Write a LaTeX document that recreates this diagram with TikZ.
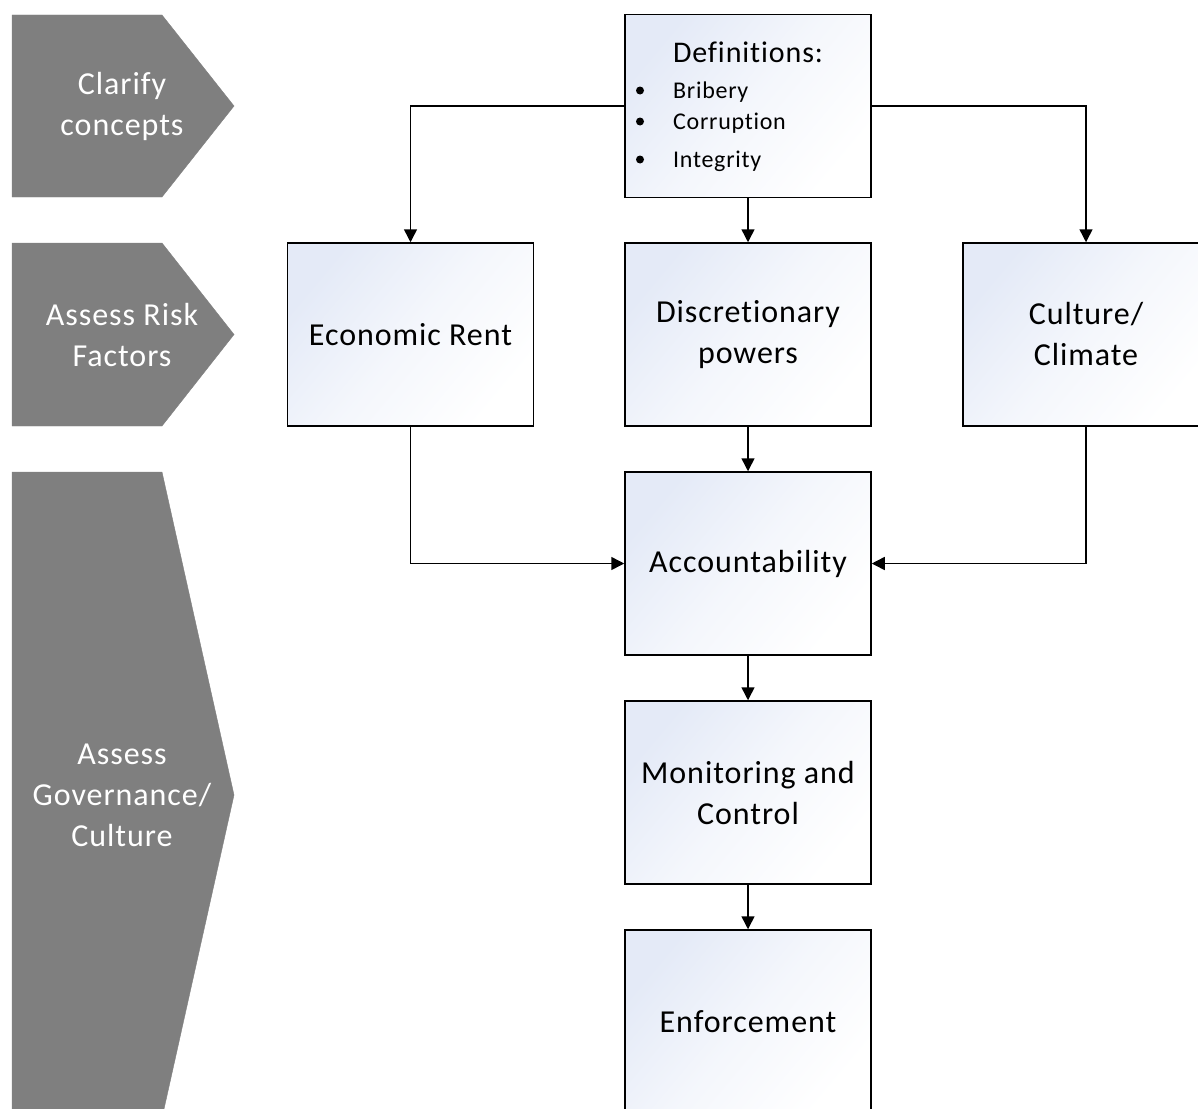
\documentclass[tikz,border=0pt]{standalone}
\usepackage{fontspec}
\setmainfont{Carlito}[Ligatures=NoCommon, LetterSpace=3]
\usetikzlibrary{arrows.meta}
\definecolor{chevgray}{RGB}{127,127,127}
\definecolor{boxblue}{RGB}{228,234,247}
\tikzset{
  stepbox/.style={draw=black, line width=1.5pt, shading=axis, top color=boxblue, bottom color=white, middle color=white!60!boxblue, shading angle=50,
    minimum width=246pt, minimum height=183pt, inner sep=0pt, align=center,
    font=\fontsize{32}{41}\selectfont},
  chevron/.style={fill=chevgray, draw=chevgray},
  chevtext/.style={text=white, align=center, font=\fontsize{32}{41}\selectfont},
  link/.style={line width=1.5pt, -{Triangle[length=13pt,width=13pt]}}
}
\begin{document}
\begin{tikzpicture}[x=1pt,y=-1pt]
            \useasboundingbox (0,0) rectangle (1198,1108);

            % Stage markers on the left
            \draw[chevron] (12,15) -- (162,15) -- (234,106) -- (162,197) -- (12,197) -- cycle;
            \node[chevtext] (clarify) at (122,106) {Clarify\\concepts};
            \draw[chevron] (12,243) -- (162,243) -- (234,334.5) -- (162,426) -- (12,426) -- cycle;
            \node[chevtext] (risk) at (122,335) {Assess Risk\\Factors};
            \draw[chevron] (12,472) -- (162,472) -- (234,795) -- (162,1118) -- (12,1118) -- cycle;
            \node[chevtext] (gov) at (122,795) {Assess\\Governance/\\Culture};

            % Boxes
            \node[stepbox] (defs) at (748,106) {};
            \node[stepbox] (econ) at (410.5,334.5) {Economic Rent};
            \node[stepbox] (disc) at (748,334.5) {Discretionary\\powers};
            \node[stepbox] (cult) at (1086,334.5) {Culture/\\Climate};
            \node[stepbox] (acc) at (748,563.5) {Accountability};
            \node[stepbox] (mon) at (748,792.5) {Monitoring and\\Control};
            \node[stepbox] (enf) at (748,1021.5) {Enforcement};

            % Definitions list
            \node[anchor=base, font=\fontsize{30}{36}\selectfont] (deftitle) at (748,63) {Definitions:};
            \node[anchor=base west, font=\fontsize{24}{28}\selectfont, inner sep=0pt] (bribery) at (673,98) {Bribery};
            \node[anchor=base west, font=\fontsize{24}{28}\selectfont, inner sep=0pt] (corrupt) at (673,129) {Corruption};
            \node[anchor=base west, font=\fontsize{24}{28}\selectfont, inner sep=0pt] (integ) at (673,167) {Integrity};
            \fill (640,90.5) circle (4);
            \fill (640,121.5) circle (4);
            \fill (640,159.5) circle (4);

            % Connectors
            \draw[link] (defs.west) -| (econ.north);
            \draw[link] (defs.east) -| (cult.north);
            \draw[link] (defs) -- (disc);
            \draw[link] (econ.south) |- (acc.west);
            \draw[link] (cult.south) |- (acc.east);
            \draw[link] (disc) -- (acc);
            \draw[link] (acc) -- (mon);
            \draw[link] (mon) -- (enf);
        \end{tikzpicture}
\end{document}
